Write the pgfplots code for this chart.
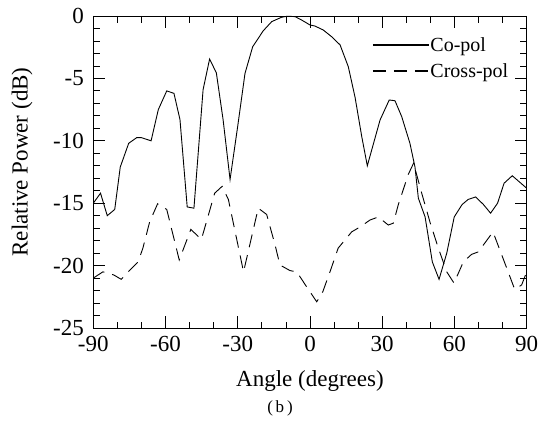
\documentclass[border=0pt]{standalone}
\usepackage{fontspec}
\setmainfont{Liberation Serif}
\usepackage{pgfplots}
\pgfplotsset{compat=1.18}

\begin{document}
\begin{tikzpicture}
\begin{axis}[
    name=ax,
    scale only axis,
    width=433.4bp, height=312bp,
    xmin=-90, xmax=90, ymin=-25, ymax=0,
    xtick={-90,-60,...,90},
    xticklabels={-90,-60,-30,0,30,60,90},
    ytick={-25,-20,...,0},
    yticklabels={-25,-20,-15,-10,-5,0},
    minor x tick num=2,
    minor y tick num=4,
    tick align=inside,
    major tick length=12bp,
    minor tick length=6.5bp,
    tick style={black, line width=0.8bp},
    axis line style={line width=0.9bp},
    tick label style={font=\fontsize{23bp}{27bp}\selectfont},
    xticklabel shift=5bp,
    yticklabel shift=6bp,
    label style={font=\fontsize{23bp}{27bp}\selectfont},
    xlabel={Angle (degrees)},
    xlabel style={at={(axis description cs:0.5,-0.186)}, anchor=base},
    ylabel={Relative Power (dB)},
    ylabel style={at={(axis description cs:-0.1645,0.532)}, anchor=center},
    legend style={draw=none, fill=none,
        at={(axis description cs:0.643,0.928)}, anchor=north west,
        inner sep=0pt, outer sep=0pt,
        font=\fontsize{20bp}{24bp}\selectfont,
        row sep=12bp,
        nodes={inner sep=0.5bp, text height=13bp, text depth=0bp}},
    legend cell align=left,
    legend image code/.code={\draw[#1, line width=2bp] (0bp,0bp) -- (56bp,0bp);},
]

% co-polar
\addplot [black, line width=0.9bp] coordinates {
(-90,-15.0) (-87,-14.2) (-84.2,-16.0) (-81.1,-15.5) (-78.8,-12.1) (-75.3,-10.2)
(-72,-9.75) (-70,-9.75) (-66,-10.0) (-63,-7.5) (-59.5,-6.0) (-56.5,-6.2)
(-54,-8.3) (-51,-15.3) (-48.2,-15.4) (-44.4,-5.9) (-41.7,-3.45) (-38.9,-4.55)
(-36.1,-8.3) (-33.2,-13.1) (-30,-8.8) (-27,-4.6) (-23.8,-2.46) (-19.4,-1.18)
(-15.9,-0.45) (-11.8,-0.1) (-9.4,-0.02) (-6.2,-0.05) (-3.5,-0.32) (0,-0.72)
(2,-0.8) (5.5,-1.12) (9,-1.66) (12.5,-2.32) (15.9,-4.06) (18.7,-6.5)
(21.5,-9.67) (23.8,-12.0) (29.1,-8.33) (32.9,-6.73) (35.3,-6.79) (38.1,-8.07)
(41.5,-10.2) (43.6,-12.1) (45,-14.6) (47.8,-16.1) (50.8,-19.7) (53.6,-21.1)
(56.8,-19.0) (59.9,-16.1) (63.2,-15.1) (65.7,-14.7) (68.8,-14.5) (72,-15.1)
(75,-15.8) (77.9,-15.0) (80.6,-13.4) (84,-12.8) (90,-13.8)
};
\addlegendentry{Co-pol}

% cross-polar
\addplot [black, line width=0.9bp, dash pattern=on 13bp off 8bp] coordinates {
(-90,-21.0) (-86,-20.5) (-81.5,-20.75) (-78.4,-21.1) (-75,-20.4) (-71.4,-19.7)
(-69.4,-18.6) (-66.6,-16.5) (-63.3,-15.05) (-59.5,-15.5) (-54.3,-19.55) (-49.5,-17.1)
(-45.1,-17.9) (-39.6,-14.2) (-36.5,-13.65) (-33.9,-14.7) (-27.6,-20.5) (-21.5,-15.4)
(-18,-15.9) (-14.5,-18.35) (-12.5,-19.95) (-8.3,-20.4) (-5.5,-20.5) (-1.4,-21.7)
(2.8,-22.9) (5.3,-22.1) (8.3,-20.5) (11.7,-18.6) (14.5,-17.95) (17.3,-17.3)
(20.8,-16.9) (24.9,-16.35) (28.4,-16.1) (32.5,-16.75) (34.6,-16.6) (36.7,-15.1)
(40.8,-12.7) (43,-11.8) (46.4,-14.2) (49.8,-16.5) (53.3,-18.6) (56.8,-20.5)
(59.8,-21.4) (63.7,-19.7) (67.1,-19.1) (69.9,-18.9) (76,-17.3) (81.7,-20.2)
(85,-21.9) (87.9,-21.55) (90,-20.5)
};
\addlegendentry{Cross-pol}

\end{axis}
\node[font=\fontsize{17bp}{20bp}\selectfont, anchor=base]
    at ([xshift=186.7bp, yshift=-84bp]ax.south west) {(\,b\,)};
\pgfresetboundingbox
\useasboundingbox ([xshift=-93.3bp, yshift=-95bp]ax.south west)
    rectangle ([xshift=448.7bp, yshift=328bp]ax.south west);
\end{tikzpicture}
\end{document}
